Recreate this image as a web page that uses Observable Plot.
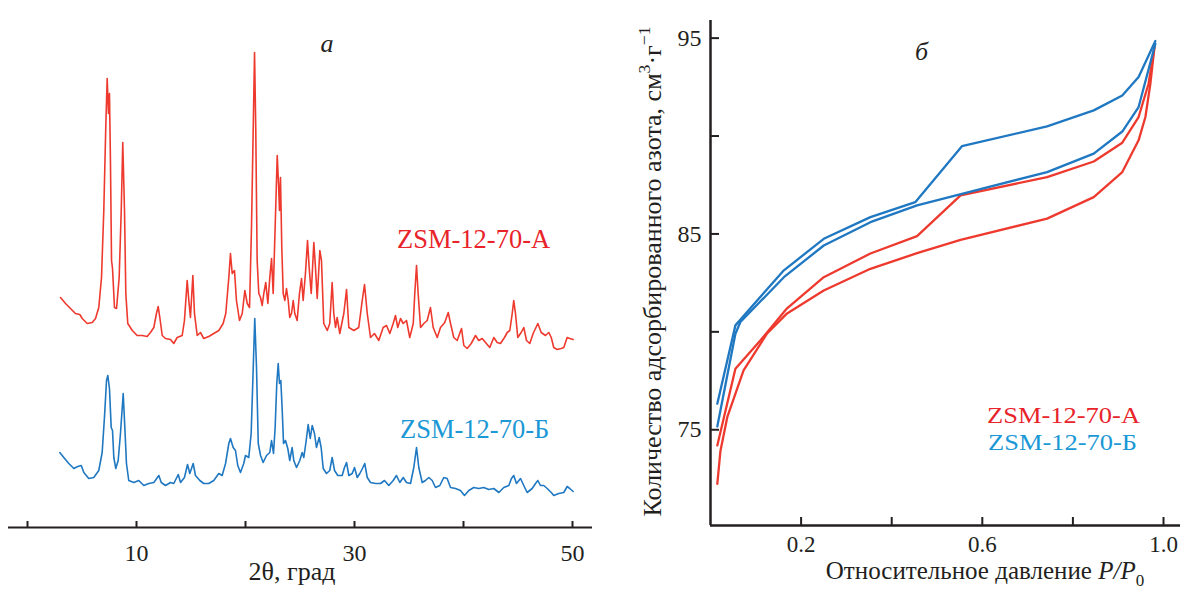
<!DOCTYPE html>
<html>
<head>
<meta charset="utf-8">
<script src="https://cdn.jsdelivr.net/npm/d3@7"></script>
<script src="https://cdn.jsdelivr.net/npm/@observablehq/plot@0.6"></script>
<style>
  html, body { margin: 0; padding: 0; background: #fff; }
  #wrap { display: flex; width: 1184px; height: 591px; overflow: hidden; }
  #wrap svg { flex: none; }
  #wrap svg text, #wrap svg tspan { font-family: "Liberation Serif", "Times New Roman", serif !important; }
</style>
</head>
<body>
<div id="wrap"></div>
<script>
// ---------- Data: XRD patterns (panel а), 2θ in degrees, intensity in a.u. (offset as plotted) ----------
const redTheta = [3.03,3.49,3.94,4.40,4.80,5.02,5.48,5.94,6.24,6.54,
  6.79,7.00,7.18,7.31,7.43,7.52,7.61,7.71,7.80,7.98,
  8.17,8.41,8.60,8.74,8.90,9.02,9.20,9.61,10.06,10.52,
  10.98,11.28,11.59,11.83,11.99,12.14,12.36,12.66,13.12,13.42,
  13.73,14.19,14.40,14.65,14.80,14.95,15.17,15.32,15.57,15.87,
  16.17,16.63,17.09,17.55,17.95,18.19,18.47,18.62,18.78,18.99,
  19.17,19.45,19.70,19.94,20.16,20.37,20.55,20.71,20.83,20.94,
  21.07,21.22,21.38,21.53,21.68,21.86,22.05,22.23,22.39,22.54,
  22.72,22.91,23.03,23.12,23.21,23.33,23.46,23.61,23.76,23.92,
  24.06,24.22,24.38,24.52,24.74,24.95,25.14,25.29,25.50,25.69,
  25.84,26.03,26.27,26.42,26.58,26.82,26.97,27.18,27.50,27.73,
  27.95,28.10,28.26,28.41,28.65,29.02,29.27,29.48,29.94,30.39,
  30.71,30.92,31.17,31.47,31.83,32.23,32.63,32.94,33.24,33.55,
  33.76,33.97,34.22,34.47,34.77,35.07,35.39,35.53,35.69,35.84,
  36.06,36.36,36.67,36.97,37.22,37.59,37.89,38.28,38.60,38.81,
  39.11,39.42,39.82,40.03,40.34,40.71,41.10,41.40,41.72,42.02,
  42.41,42.78,43.09,43.39,43.76,44.01,44.25,44.47,44.61,44.77,
  44.98,45.29,45.53,45.78,46.08,46.39,46.82,47.13,47.52,47.83,
  48.05,48.28,48.60,48.96,49.20,49.51,49.75,50.06];
const redI = [230,224,219,214,213,209,204,205,209,220,
  250,317,400,449,414,434,367,267,259,220,
  219,250,317,385,317,234,204,197,192,192,
  191,195,200,214,221,210,192,189,188,184,
  190,192,207,247,227,210,252,214,192,195,
  189,191,194,197,204,214,250,274,254,257,
  227,207,214,237,224,220,300,400,475,400,
  267,234,230,222,234,245,224,250,269,234,
  300,372,344,317,350,280,234,227,239,227,
  210,214,227,214,207,234,249,227,254,287,
  260,234,285,260,229,277,267,204,197,204,
  245,214,200,210,194,214,238,200,197,200,
  227,243,214,190,194,187,200,202,194,204,
  212,200,209,204,207,190,204,234,262,234,
  200,204,207,220,200,190,200,205,215,204,
  190,187,199,182,179,184,192,187,189,185,
  180,190,185,184,190,195,197,214,227,214,
  190,195,200,187,184,194,204,195,192,195,
  190,180,178,179,180,190,189,188];

const blueTheta = [2.96,3.33,3.79,4.25,4.61,4.93,5.17,5.62,6.08,6.54,
  6.85,7.06,7.25,7.37,7.52,7.68,7.80,7.92,8.10,8.32,
  8.53,8.78,8.93,9.08,9.29,9.75,10.21,10.67,11.13,11.59,
  12.05,12.27,12.66,13.12,13.42,13.83,14.04,14.40,14.68,14.89,
  15.20,15.41,15.81,16.17,16.63,17.09,17.55,17.86,18.17,18.47,
  18.62,18.87,19.08,19.29,19.54,19.84,20.00,20.30,20.52,20.71,
  20.85,21.01,21.17,21.38,21.62,21.93,22.23,22.39,22.57,22.72,
  22.87,23.00,23.12,23.24,23.37,23.49,23.67,23.88,24.06,24.28,
  24.43,24.68,24.98,25.20,25.35,25.57,25.75,25.94,26.12,26.33,
  26.51,26.76,26.94,27.13,27.43,27.73,27.95,28.17,28.47,28.87,
  29.08,29.27,29.48,29.79,30.00,30.25,30.49,30.73,30.94,31.17,
  31.47,31.93,32.39,32.75,33.15,33.55,33.85,34.16,34.47,34.77,
  35.14,35.44,35.69,35.90,36.21,36.51,36.82,37.13,37.43,37.83,
  38.19,38.50,38.81,39.27,39.72,40.09,40.49,40.94,41.40,41.86,
  42.32,42.78,43.24,43.70,44.16,44.40,44.61,44.86,45.23,45.53,
  45.84,46.30,46.61,46.82,47.06,47.37,47.68,48.05,48.28,48.74,
  49.20,49.51,49.75,50.06];
const blueI = [75,70,64,59,61,62,55,49,50,57,
  75,110,147,152,139,100,97,70,59,67,
  94,134,100,64,47,45,47,42,44,45,
  52,45,42,45,44,53,45,50,63,54,
  64,52,47,44,44,47,54,52,64,84,
  89,80,77,62,55,64,72,70,94,160,
  209,160,84,72,65,72,75,87,74,100,
  144,164,144,147,117,84,87,79,67,80,
  67,60,67,75,70,87,103,89,102,94,
  80,90,80,59,54,57,70,57,52,52,
  60,65,52,54,60,50,54,59,64,50,
  45,44,44,47,42,47,52,45,50,45,
  44,60,80,60,45,47,50,47,40,42,
  50,49,40,39,37,32,37,40,39,40,
  38,39,35,40,42,49,52,44,49,42,
  35,39,44,47,42,42,39,35,32,34,
  35,41,39,36];

// ---------- Data: N2 isotherms (panel б) ----------
const aAdsP = [0.015,0.022,0.037,0.073,0.125,0.169,0.25,0.353,0.456,0.552,0.743,0.846,0.909,0.945,0.96,0.971,0.98];
const aAdsV = [72.24,73.93,75.64,78.03,79.92,80.94,82.11,83.22,84.02,84.70,85.78,86.88,88.16,89.78,90.97,92.67,94.54];
const aDesP = [0.98,0.967,0.945,0.909,0.846,0.743,0.552,0.456,0.353,0.25,0.169,0.11,0.055,0.015];
const aDesV = [94.54,92.67,90.97,89.66,88.70,87.90,86.97,84.89,84.00,82.79,81.20,79.56,78.12,74.20];
const bAdsP = [0.015,0.055,0.066,0.162,0.25,0.353,0.456,0.555,0.743,0.846,0.909,0.945,0.982];
const bAdsV = [75.17,79.90,80.50,82.79,84.41,85.60,86.46,87.05,88.16,89.10,90.23,91.48,94.71];
const bDesP = [0.982,0.945,0.909,0.846,0.743,0.555,0.452,0.353,0.25,0.162,0.103,0.055,0.015];
const bDesV = [94.85,93.01,92.07,91.31,90.49,89.48,86.62,85.86,84.75,83.14,81.60,80.33,76.33];

// ---------- Ticks and labels ----------
const xrdTicks = [0, 10, 20, 30, 40, 50];
const xrdTickLabels = [10, 30, 50];
const isoXTicks = [0.2, 0.4, 0.6, 0.8, 1.0];
const isoXTickLabels = [0.2, 0.6, 1.0];
const isoYTicks = [75, 80, 85, 90, 95];
const isoYTickLabels = [75, 85, 95];
const seriesNames = ["ZSM-12-70-A", "ZSM-12-70-Б"];

// ---------- Styles ----------
const FONT = "Liberation Serif";
const ink = "#231f20";
const redLine = "#ee3a2e", blueLine = "#1f78c1";
const redText = "#e8232a", blueText = "#1b98d5";

const zip = (xs, ys) => xs.map((x, i) => ({x, y: ys[i]}));
const xrdA = zip(redTheta, redI), xrdB = zip(blueTheta, blueI);
const isoAAds = zip(aAdsP, aAdsV), isoADes = zip(aDesP, aDesV);
const isoBAds = zip(bAdsP, bAdsV), isoBDes = zip(bDesP, bDesV);

const plotStyle = {fontFamily: FONT, color: ink, background: "white", overflow: "visible"};

function richText(svg, x, y, parts, o) {
  const size = o.size;
  let tf = `translate(${x},${y})`;
  if (o.rotate) tf += ` rotate(${o.rotate})`;
  const t = d3.select(svg).append("text")
    .attr("transform", tf)
    .attr("text-anchor", o.anchor || "start")
    .attr("font-family", FONT)
    .attr("font-size", size)
    .attr("fill", o.fill || ink);
  if (o.italic) t.attr("font-style", "italic");
  if (o.length) t.attr("textLength", o.length).attr("lengthAdjust", "spacingAndGlyphs");
  let shift = 0;
  for (const p of parts) {
    const [str, kind, style] = typeof p === "string" ? [p] : p;
    const target = kind === "sup" ? -0.42 * size : kind === "sub" ? 0.28 * size : 0;
    const ts = t.append("tspan").text(str);
    if (target - shift !== 0) ts.attr("dy", target - shift);
    if (kind) ts.attr("font-size", size * 0.68);
    if (style === "i") ts.attr("font-style", "italic");
    shift = target;
  }
  return t;
}

// ---------- Panel а ----------
const xrdYDomain = [0, 500];
const left = Plot.plot({
  width: 600, height: 591,
  marginLeft: 8, marginRight: 8, marginTop: 27, marginBottom: 64,
  style: plotStyle,
  x: {domain: [-1.743, 51.835], label: null},
  y: {domain: xrdYDomain, axis: null},
  marks: [
    Plot.ruleY([xrdYDomain[0]], {stroke: ink, strokeWidth: 2}),
    Plot.axisX({ticks: xrdTicks, tickSize: -6, tickPadding: 22.5, strokeWidth: 2, fontSize: 24, fontFamily: FONT,
      tickFormat: d => xrdTickLabels.includes(d) ? String(d) : "", label: null}),
    Plot.line(xrdA, {x: "x", y: "y", stroke: redLine, strokeWidth: 1.6}),
    Plot.line(xrdB, {x: "x", y: "y", stroke: blueLine, strokeWidth: 1.6})
  ]
});

// ---------- Panel б ----------
const isoXDomain = [0, 1.0375], isoYDomain = [70.11, 95.90];
const right = Plot.plot({
  width: 584, height: 591,
  marginLeft: 110, marginRight: 4, marginTop: 20, marginBottom: 66,
  style: plotStyle,
  x: {domain: isoXDomain, label: null},
  y: {domain: isoYDomain, label: null},
  marks: [
    Plot.ruleX([isoXDomain[0]], {stroke: ink, strokeWidth: 2.5}),
    Plot.ruleY([isoYDomain[0]], {stroke: ink, strokeWidth: 2.5}),
    Plot.axisX({ticks: isoXTicks, tickSize: -8, tickPadding: 18, strokeWidth: 2, fontSize: 23, fontFamily: FONT,
      tickFormat: d => isoXTickLabels.includes(d) ? d3.format(".1f")(d) : "", label: null}),
    Plot.axisY({ticks: isoYTicks, tickSize: -9, tickPadding: 18, strokeWidth: 2, fontSize: 24, fontFamily: FONT,
      tickFormat: d => isoYTickLabels.includes(d) ? String(d) : "", label: null}),
    Plot.line(isoAAds, {x: "x", y: "y", stroke: redLine, strokeWidth: 2.3}),
    Plot.line(isoADes, {x: "x", y: "y", stroke: redLine, strokeWidth: 2.3}),
    Plot.line(isoBAds, {x: "x", y: "y", stroke: blueLine, strokeWidth: 2.3}),
    Plot.line(isoBDes, {x: "x", y: "y", stroke: blueLine, strokeWidth: 2.3})
  ]
});

// ---------- Text annotations ----------
richText(left, 327, 52, ["а"], {size: 26, italic: true, anchor: "middle"});
richText(left, 397, 248, [seriesNames[0]], {size: 26.5, fill: redText});
richText(left, 400, 438, [seriesNames[1]], {size: 26.5, fill: blueText});
richText(left, 292, 580, ["2θ, град"], {size: 26, anchor: "middle"});

richText(right, 321.5, 60, ["б"], {size: 26, italic: true, anchor: "middle"});
richText(right, 387, 423, [seriesNames[0]], {size: 24, fill: redText, length: 153});
richText(right, 388, 450, [seriesNames[1]], {size: 24, fill: blueText, length: 149});
richText(right, 385, 579, ["Относительное давление ", ["P", null, "i"], ["/", null, "i"], ["P", null, "i"], ["0", "sub"]], {size: 25, anchor: "middle"});
richText(right, 61, 271.5, ["Количество адсорбированного азота, см", ["3", "sup"], "·г", ["−1", "sup"]], {size: 26, anchor: "middle", rotate: -90});

const wrap = document.getElementById("wrap");
wrap.appendChild(left);
wrap.appendChild(right);
</script>
</body>
</html>
